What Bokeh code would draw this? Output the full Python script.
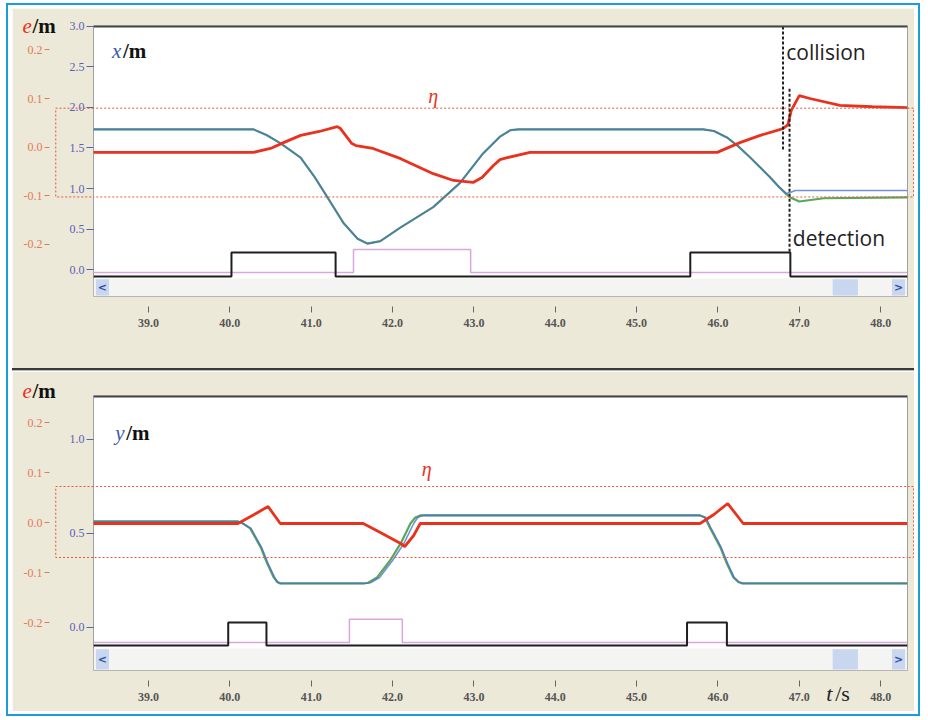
import numpy as np
from bokeh.plotting import figure
from bokeh.models import Range1d, LinearAxis, FixedTicker, BoxAnnotation, Span, Div
from bokeh.layouts import column
from bokeh.core.properties import value
from bokeh.embed import file_html
from bokeh.resources import INLINE

# ---------------- data ----------------
x_ticks = [39.0, 40.0, 41.0, 42.0, 43.0, 44.0, 45.0, 46.0, 47.0, 48.0]
x_tick_labels = ["39.0", "40.0", "41.0", "42.0", "43.0", "44.0", "45.0", "46.0", "47.0", "48.0"]
t_view = (38.324, 48.33)

e_ticks = [-0.2, -0.1, 0.0, 0.1, 0.2]
e_tick_labels = ["-0.2", "-0.1", "0.0", "0.1", "0.2"]

# upper panel: x position [m]
xpos_ticks = [0.0, 0.5, 1.0, 1.5, 2.0, 2.5, 3.0]
xpos_tick_labels = ["0.0", "0.5", "1.0", "1.5", "2.0", "2.5", "3.0"]
top_green_t = [38.32, 40.29, 40.45, 40.62, 40.87, 41.05, 41.2, 41.4, 41.57, 41.69, 41.85, 42.1, 42.5,
               42.83, 43.11, 43.32, 43.45, 43.55, 45.82, 45.95, 46.11, 46.25, 46.4, 46.52, 46.64,
               46.75, 46.84, 46.89, 47.0, 47.3, 48.33]
top_green = [1.73, 1.73, 1.66, 1.56, 1.38, 1.13, 0.89, 0.57, 0.38, 0.32, 0.35, 0.52, 0.77,
             1.07, 1.43, 1.64, 1.72, 1.73, 1.73, 1.71, 1.63, 1.52, 1.38, 1.26, 1.14,
             1.02, 0.93, 0.89, 0.84, 0.88, 0.89]
top_blue_t = [38.32, 40.29, 40.45, 40.62, 40.87, 41.05, 41.2, 41.4, 41.57, 41.69, 41.85, 42.1, 42.5,
              42.83, 43.11, 43.32, 43.45, 43.55, 45.82, 45.95, 46.11, 46.25, 46.4, 46.52, 46.64,
              46.75, 46.84, 46.89, 46.95, 48.33]
top_blue = [1.73, 1.73, 1.66, 1.56, 1.38, 1.13, 0.89, 0.57, 0.38, 0.32, 0.35, 0.52, 0.77,
            1.07, 1.43, 1.64, 1.72, 1.73, 1.73, 1.71, 1.63, 1.52, 1.38, 1.26, 1.14,
            1.02, 0.94, 0.95, 0.975, 0.975]
top_e_t = [38.32, 40.29, 40.5, 40.66, 40.87, 41.1, 41.32, 41.36, 41.5, 41.55, 41.76, 42.1, 42.5,
           42.75, 42.99, 43.1, 43.24, 43.32, 43.41, 43.69, 45.99, 46.27, 46.52, 46.8, 46.86, 46.9,
           47.0, 47.13, 47.5, 47.9, 48.33]
top_e = [-0.011, -0.011, -0.003, 0.009, 0.024, 0.032, 0.042, 0.038, 0.007, 0.003, -0.003, -0.024, -0.055,
         -0.069, -0.073, -0.063, -0.038, -0.026, -0.022, -0.011, -0.011, 0.009, 0.024, 0.038, 0.046, 0.075,
         0.106, 0.100, 0.086, 0.083, 0.081]
top_black_edges = [40.02, 41.30, 45.66, 46.89]
top_pink_edges = [41.52, 42.96]
top_eta = (0.080, -0.103)
collision_t = 46.80
detection_t = 46.88

# lower panel: y position [m]
ypos_ticks = [0.0, 0.5, 1.0]
ypos_tick_labels = ["0.0", "0.5", "1.0"]
bot_green_t = [38.32, 40.10, 40.15, 40.25, 40.38, 40.46, 40.54, 40.58, 40.62, 41.64, 41.70, 41.81, 41.97,
               42.1, 42.22, 42.28, 42.34, 45.78, 45.84, 45.9, 46.03, 46.11, 46.19, 46.25, 46.3, 48.33]
bot_green = [0.564, 0.564, 0.556, 0.527, 0.426, 0.34, 0.266, 0.242, 0.234, 0.234, 0.238, 0.266, 0.356,
             0.447, 0.553, 0.585, 0.596, 0.596, 0.585, 0.532, 0.426, 0.34, 0.266, 0.242, 0.234, 0.234]
bot_blue_t = [38.32, 40.10, 40.15, 40.26, 40.39, 40.47, 40.55, 40.59, 40.63, 41.66, 41.73, 41.84, 42.0,
              42.14, 42.26, 42.31, 42.37, 45.78, 45.85, 45.91, 46.04, 46.12, 46.2, 46.26, 46.31, 48.33]
bot_blue = [0.564, 0.564, 0.556, 0.527, 0.426, 0.34, 0.266, 0.242, 0.234, 0.234, 0.238, 0.266, 0.356,
            0.447, 0.553, 0.585, 0.596, 0.596, 0.585, 0.532, 0.426, 0.34, 0.266, 0.242, 0.234, 0.234]
bot_e_t = [38.32, 40.10, 40.3, 40.47, 40.62, 41.64, 41.85, 42.1, 42.15, 42.26, 42.34, 45.78, 45.95,
           46.12, 46.31, 48.33]
bot_e = [-0.002, -0.002, 0.016, 0.032, -0.002, -0.002, -0.02, -0.042, -0.048, -0.026, -0.002, -0.002, 0.016,
         0.038, -0.002, -0.002]
bot_black_edges = [39.98, 40.45, 45.62, 46.11]
bot_pink_edges = [41.47, 42.12]
bot_eta = (0.072, -0.070)

# ---------------- style ----------------
BEIGE = "#ece9d8"
RED = "#e8321e"
GREEN = "#5aa75a"
BLUE = "#4a6ccc"
BLACK = "#1e1e1e"
PINK = "#d8a8dc"
ETA_RED = "#e4583a"
AXIS_BLUE = "#5b5fb5"
AXIS_RED = "#e27a58"
FRAME_BLUE = "#1a9ddb"
ETA_LEFT = 37.86    # left edge of the eta box (beyond the frame)
ETA_RIGHT = 48.405  # right edge of the eta box


def step_xy(edges, low, high, t0, t1):
    xs, ys = [t0], [low]
    for i, e in enumerate(edges):
        before = low if i % 2 == 0 else high
        after = high if i % 2 == 0 else low
        xs += [e, e]
        ys += [before, after]
    xs.append(t1)
    ys.append(low)
    return xs, ys


def otext(p, x, y, s, color, size="21px", font="Liberation Serif", style="normal", dx=0,
          align="left", rng="default"):
    p.text(x=[x], y=[y], text=[s], x_offset=dx, text_color=color, text_font=value(font),
           text_font_size=size, text_font_style=style, text_align=align, text_baseline="middle",
           level="overlay", y_range_name=rng)


def make_panel(height, border_top, border_bottom, y_rng, e_rng, pos_ticks, pos_labels,
               green_t, green, blue_t, blue, e_t, e_vals, black_edges, pink_edges,
               black_lv, pink_lv, eta, frame_top_val, scroll_top, label_char, label_pos,
               em_pos, eta_pos):
    p = figure(width=902, height=height, x_range=Range1d(*t_view), y_range=Range1d(*y_rng),
               output_backend="svg", toolbar_location=None,
               min_border_left=81, min_border_right=7, min_border_top=border_top,
               min_border_bottom=border_bottom,
               background_fill_color="white", border_fill_color=BEIGE,
               outline_line_color="#a0a0a0", outline_line_width=1)
    p.extra_y_ranges = {"e": Range1d(*e_rng)}
    p.grid.visible = False

    # x axis
    xa = p.xaxis[0]
    xa.ticker = FixedTicker(ticks=x_ticks)
    xa.major_label_overrides = {t: s for t, s in zip(x_ticks, x_tick_labels)}
    xa.axis_line_color = None
    xa.minor_tick_line_color = None
    xa.major_tick_in = -10
    xa.major_tick_out = 16
    xa.major_tick_line_color = "#666"
    xa.major_label_standoff = 6
    xa.major_label_text_font = "Liberation Sans Narrow"
    xa.major_label_text_font_size = "12px"
    xa.major_label_text_font_style = "bold"
    xa.major_label_text_color = "#555"

    # position axis (blue)
    ya = p.yaxis[0]
    ya.ticker = FixedTicker(ticks=pos_ticks)
    ya.major_label_overrides = {t: s for t, s in zip(pos_ticks, pos_labels)}
    ya.axis_line_color = None
    ya.minor_tick_line_color = None
    ya.major_tick_in = 0
    ya.major_tick_out = 7
    ya.major_tick_line_color = AXIS_BLUE
    ya.major_label_standoff = 2
    ya.major_label_orientation = "horizontal"
    ya.major_label_text_font = "Liberation Sans Narrow"
    ya.major_label_text_font_size = "12px"
    ya.major_label_text_color = AXIS_BLUE

    # error axis (red)
    ea = LinearAxis(y_range_name="e", ticker=FixedTicker(ticks=e_ticks))
    ea.major_label_overrides = {t: s for t, s in zip(e_ticks, e_tick_labels)}
    ea.axis_line_color = None
    ea.minor_tick_line_color = None
    ea.major_tick_in = -17
    ea.major_tick_out = 22
    ea.major_tick_line_color = AXIS_RED
    ea.major_label_standoff = 2
    ea.major_label_orientation = "horizontal"
    ea.major_label_text_font = "Liberation Sans Narrow"
    ea.major_label_text_font_size = "12px"
    ea.major_label_text_color = AXIS_RED
    p.add_layout(ea, "left")

    # scrollbar strip
    t0, t1 = t_view
    ys = y_rng[1] - y_rng[0]
    p.quad(left=t0, right=t1, bottom=y_rng[0], top=scroll_top, fill_color="#f4f4f2", line_color=None)
    for l, r in [(t0 + 0.03, t0 + 0.19), (t1 - 0.19, t1 - 0.03), (t1 - 0.92, t1 - 0.61)]:
        p.quad(left=l, right=r, bottom=y_rng[0] + 0.004 * ys, top=scroll_top - 0.003 * ys,
               fill_color="#c9d6ef", line_color=None)
    mid = (y_rng[0] + scroll_top) / 2
    otext(p, t0 + 0.11, mid, "<", "#3050a0", "11px", "DejaVu Sans", "bold", align="center")
    otext(p, t1 - 0.11, mid, ">", "#3050a0", "11px", "DejaVu Sans", "bold", align="center")

    # frame top line
    p.add_layout(Span(location=frame_top_val, dimension="width", line_color="#444", line_width=2))

    # eta band (inside frame) + its parts that reach into the margins
    p.add_layout(BoxAnnotation(left=t0 - 1, right=t1 + 1, top=eta[0], bottom=eta[1],
                               y_range_name="e", fill_color=None, fill_alpha=0,
                               line_color=ETA_RED, line_alpha=1, line_width=1, line_dash="2 2"))
    p.multi_line(xs=[[t0, ETA_LEFT, ETA_LEFT, t0], [t1, ETA_RIGHT, ETA_RIGHT, t1]],
                 ys=[[eta[0], eta[0], eta[1], eta[1]]] * 2, y_range_name="e",
                 line_color=ETA_RED, line_width=1, line_dash="2 2", level="overlay")

    # digital signals
    px, py = step_xy(pink_edges, pink_lv[0], pink_lv[1], t0, t1)
    p.line(px, py, line_color=PINK, line_width=1.5)
    bx, by = step_xy(black_edges, black_lv[0], black_lv[1], t0, t1)
    p.line(bx, by, line_color=BLACK, line_width=2)

    # position traces
    p.line(green_t, green, line_color=GREEN, line_width=2.2)
    p.line(blue_t, blue, line_color=BLUE, line_width=1.6, line_alpha=0.75)
    # error trace
    p.line(e_t, e_vals, y_range_name="e", line_color=RED, line_width=2.8)

    # labels
    otext(p, label_pos[0], label_pos[1], label_char, "#3c5ab0", style="italic")
    otext(p, label_pos[0], label_pos[1], "/m", "#111", style="bold", dx=11)
    otext(p, em_pos[0], em_pos[1], "e", RED, style="italic")
    otext(p, em_pos[0], em_pos[1], "/m", "#111", style="bold", dx=10)
    otext(p, eta_pos[0], eta_pos[1], "η", RED, "20px", style="italic", align="center", rng="e")
    return p


p_top = make_panel(360, 17, 72, (-0.333, 3.012), (-0.3082, 0.2505), xpos_ticks, xpos_tick_labels,
                   top_green_t, top_green, top_blue_t, top_blue, top_e_t, top_e,
                   top_black_edges, top_pink_edges, (-0.086, 0.21), (-0.037, 0.247), top_eta,
                   3.0, -0.111, "x", (38.55, 2.70), (37.45, 3.01), (42.5, 0.105))

# collision / detection markers
p_top.line([collision_t, collision_t], [3.0, 1.47], line_color="#222", line_width=2, line_dash="3 2")
p_top.line([detection_t, detection_t], [2.23, 0.21], line_color="#222", line_width=2, line_dash="3 2")
otext(p_top, collision_t + 0.04, 2.68, "collision", "#222", "21px", "Open Sans")
otext(p_top, detection_t + 0.04, 0.395, "detection", "#222", "21px", "Open Sans")

p_bot = make_panel(340, 24, 41, (-0.229, 1.234), (-0.296, 0.254), ypos_ticks, ypos_tick_labels,
                   bot_green_t, bot_green, bot_blue_t, bot_blue, bot_e_t, bot_e,
                   bot_black_edges, bot_pink_edges, (-0.096, 0.027), (-0.08, 0.043), bot_eta,
                   1.229, -0.112, "y", (38.59, 1.037), (37.45, 1.26), (42.42, 0.108))
otext(p_bot, 47.33, -0.351, "t", "#222", "22px", style="italic")
otext(p_bot, 47.33, -0.351, "/s", "#222", "22px", dx=9)

sep = Div(width=902, height=3, margin=(0, 0, 0, 0),
          styles={"background-color": "#3a3a3a", "border-bottom": "1px solid #bbb"})

layout = column(p_top, sep, p_bot, margin=(3, 0, 0, 6), spacing=0,
                styles={"border": f"2px solid {FRAME_BLUE}", "padding": "3px 4px",
                        "background-color": "white"})

open("out.html", "w").write(file_html(layout, INLINE))
